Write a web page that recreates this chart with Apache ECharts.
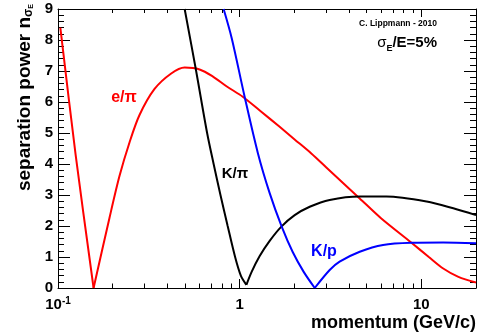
<!DOCTYPE html>
<html>
<head>
<meta charset="utf-8">
<script src="https://cdn.jsdelivr.net/npm/echarts@6/dist/echarts.min.js"></script>
<style>
  html, body { margin: 0; padding: 0; background: #fff; }
  .layer { position: absolute; left: 0; top: 0; width: 491px; height: 332px; }
</style>
</head>
<body>
<div id="frame" class="layer"></div>
<div id="labels" class="layer"></div>
<div id="main" class="layer"></div>
<script>
// momentum axis (GeV/c, log) ticks
var majorTicks = [0.1, 1, 10];
var minorTicks = [0.2, 0.3, 0.4, 0.5, 0.6, 0.7, 0.8, 0.9, 2, 3, 4, 5, 6, 7, 8, 9];

// separation power, [momentum, n sigma]
// each curve is split at its zero so the cusp stays sharp
var ePiLow = [[0.103, 8.4], [0.125, 4.3], [0.157, 0]];
var ePiHigh = [[0.157, 0], [0.192, 2.26], [0.218, 3.61], [0.248, 4.71], [0.281, 5.58], [0.34, 6.42],
    [0.42, 6.92], [0.498, 7.11], [0.602, 7.05], [0.713, 6.82], [0.85, 6.5], [1.04, 6.17], [1.3, 5.71],
    [1.66, 5.2], [2.0, 4.8], [2.48, 4.34], [3.0, 3.89], [4.58, 2.89], [6.0, 2.25], [8.83, 1.46],
    [11, 1.0], [13.2, 0.63], [16, 0.36], [20, 0.18]];

var kPiLow = [[0.498, 9], [0.576, 7], [0.662, 5], [0.719, 4], [0.784, 3], [0.859, 2], [0.944, 1],
    [1.015, 0.4], [1.089, 0.1]];
var kPiHigh = [[1.089, 0.1], [1.164, 0.52], [1.289, 1.03], [1.463, 1.52], [1.697, 1.98], [2.009, 2.35],
    [2.43, 2.62], [3.13, 2.84], [4.58, 2.95], [6.43, 2.95], [10.7, 2.79], [15, 2.57], [20, 2.35]];

var kPLow = [[0.816, 9], [0.905, 8.05], [1.065, 6.17], [1.26, 4.35], [1.463, 3.06], [1.704, 1.98],
    [1.959, 1.16], [2.252, 0.52], [2.59, 0]];
var kPHigh = [[2.59, 0], [3.13, 0.58], [3.55, 0.85], [4.58, 1.17], [6.16, 1.39], [8.83, 1.46],
    [13.2, 1.47], [20, 1.44]];

var FONT = "'Liberation Sans', Arial, Helvetica, sans-serif";
var GRID = { left: 58, right: 15, top: 9, bottom: 44 };

// ---- layer 1: frame and ticks only (no labels) ----
function tickX(pos, ticks, len, showLine) {
    return {
        type: 'log', min: 0.1, max: 20, position: pos,
        axisLine: { show: showLine, onZero: false, lineStyle: { color: '#000', width: 1 } },
        axisTick: { show: true, inside: true, length: len, customValues: ticks,
            lineStyle: { color: '#000', width: 1 } },
        axisLabel: { show: false },
        splitLine: { show: false }
    };
}
function tickY(pos) {
    return {
        type: 'value', min: 0, max: 9, interval: 1, position: pos,
        axisLine: { show: true, lineStyle: { color: '#000', width: 1 } },
        axisTick: { show: true, inside: true, length: 12, lineStyle: { color: '#000' } },
        minorTick: { show: true, splitNumber: 5, length: 6, lineStyle: { color: '#000' } },
        axisLabel: { show: false },
        splitLine: { show: false }
    };
}
var frameChart = echarts.init(document.getElementById('frame'));
frameChart.setOption({
    animation: false,
    backgroundColor: '#fff',
    grid: GRID,
    xAxis: [
        tickX('bottom', majorTicks, 9, true),
        tickX('bottom', minorTicks, 4.5, false),
        tickX('top', majorTicks, 8, true),
        tickX('top', minorTicks, 4, false)
    ],
    yAxis: [tickY('left'), tickY('right')],
    series: []
});

// ---- layer 2: tick labels ----
var labelChart = echarts.init(document.getElementById('labels'));
labelChart.setOption({
    animation: false,
    grid: GRID,
    xAxis: {
        type: 'log', min: 0.1, max: 20,
        axisLine: { show: false },
        axisTick: { show: false },
        splitLine: { show: false },
        axisLabel: {
            customValues: majorTicks,
            margin: 8,
            formatter: function (v) {
                if (Math.abs(v - 0.1) < 1e-9) return '{b|10}{s|-1}';
                return '{b|' + Math.round(v) + '}';
            },
            rich: {
                b: { fontSize: 15, fontWeight: 'bold', color: '#000', fontFamily: FONT, lineHeight: 18 },
                s: { fontSize: 10, fontWeight: 'bold', color: '#000', fontFamily: FONT,
                    verticalAlign: 'top', lineHeight: 10 }
            }
        }
    },
    yAxis: {
        type: 'value', min: 0, max: 9, interval: 1,
        axisLine: { show: false },
        axisTick: { show: false },
        splitLine: { show: false },
        axisLabel: { margin: 5, color: '#000', fontSize: 15, fontWeight: 'bold', fontFamily: FONT }
    },
    series: []
});

// ---- layer 3: curves and texts ----
function curve(data, color) {
    return {
        type: 'line',
        data: data,
        smooth: 0.3,
        showSymbol: false,
        lineStyle: { color: color, width: 2 }
    };
}

var chart = echarts.init(document.getElementById('main'));
chart.setOption({
    animation: false,
    grid: GRID,
    xAxis: { type: 'log', min: 0.1, max: 20, show: false },
    yAxis: { type: 'value', min: 0, max: 9, interval: 1, show: false },
    series: [
        curve(ePiLow, '#ff0000'),
        curve(ePiHigh, '#ff0000'),
        curve(kPiLow, '#000000'),
        curve(kPiHigh, '#000000'),
        curve(kPLow, '#0000ff'),
        curve(kPHigh, '#0000ff')
    ],
    graphic: [
        {
            type: 'text', x: 25, y: 4, rotation: Math.PI / 2,
            style: {
                text: 'separation power n{s|σ}{e|E}',
                font: 'bold 19px ' + FONT,
                fill: '#000',
                align: 'right',
                verticalAlign: 'middle',
                rich: {
                    s: { fontSize: 12, fontWeight: 'bold', fontFamily: FONT, verticalAlign: 'bottom', lineHeight: 12 },
                    e: { fontSize: 7, fontWeight: 'bold', fontFamily: FONT, verticalAlign: 'bottom', lineHeight: 7 }
                }
            }
        },
        {
            type: 'text', x: 476, y: 323,
            style: { text: 'momentum (GeV/c)', font: 'bold 18px ' + FONT, fill: '#000',
                align: 'right', verticalAlign: 'middle' }
        },
        {
            type: 'text', x: 124, y: 98,
            style: { text: 'e/π', font: 'bold 16px ' + FONT, fill: '#ff0000', align: 'center', verticalAlign: 'middle' }
        },
        {
            type: 'text', x: 235, y: 174,
            style: { text: 'K/π', font: 'bold 15px ' + FONT, fill: '#000', align: 'center', verticalAlign: 'middle' }
        },
        {
            type: 'text', x: 324, y: 252,
            style: { text: 'K/p', font: 'bold 16px ' + FONT, fill: '#0000ff', align: 'center', verticalAlign: 'middle' }
        },
        {
            type: 'text', x: 437, y: 24,
            style: { text: 'C. Lippmann - 2010', font: 'bold 8.5px ' + FONT, fill: '#000',
                align: 'right', verticalAlign: 'middle' }
        },
        {
            type: 'text', x: 437, y: 43,
            style: {
                text: '{g|σ}{sub|E}{m|/E=5%}',
                font: 'bold 15px ' + FONT, fill: '#000',
                align: 'right', verticalAlign: 'middle',
                rich: {
                    g: { fontSize: 15, fontFamily: FONT, lineHeight: 20, verticalAlign: 'middle' },
                    sub: { fontSize: 9, fontWeight: 'bold', fontFamily: FONT, lineHeight: 9, verticalAlign: 'bottom' },
                    m: { fontSize: 15, fontWeight: 'bold', fontFamily: FONT, lineHeight: 20, verticalAlign: 'middle' }
                }
            }
        }
    ]
});
</script>
</body>
</html>
